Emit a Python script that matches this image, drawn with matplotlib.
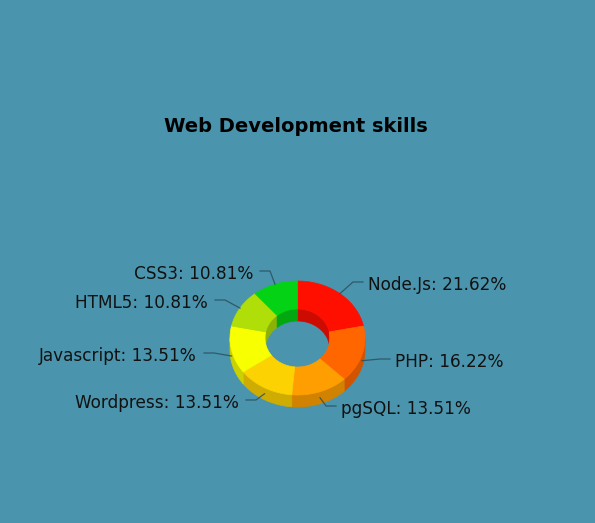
import numpy as np
import matplotlib.pyplot as plt
from matplotlib.patches import Polygon
from matplotlib.colors import to_rgb

# skill shares (counts out of 37 -> the percentages shown on the labels)
skills = ["Node.Js", "PHP", "pgSQL", "Wordpress", "Javascript", "HTML5", "CSS3"]
counts = [8, 6, 5, 5, 5, 4, 4]
colors = ["#FF0F00", "#FF6600", "#FF9E01", "#FCD202", "#F8FF01", "#B0DE09", "#04D215"]

# where each label text sits (x, y, side) - picked to match the original layout
label_pos = [(368, 285, "l"), (395, 362, "l"), (341, 409, "l"),
             (239, 403, "r"), (197, 356, "r"), (208, 303, "r"), (253, 274, "r")]

BG = "#4A95AD"
W, H = 595, 523
CX, CY = 297.5, 338.0          # center of the top face, in pixels
A_OUT, B_OUT = 67.5, 57.0      # outer ellipse radii
A_IN, B_IN = 32.5, 29.0        # inner ellipse radii
DEPTH = 12.0                    # 3d thickness


def darker(c, f=0.82):
    r, g, b = to_rgb(c)
    return (r * f, g * f, b * f)


def ell(a, b, phi, dy=0.0):
    return np.column_stack([CX + a * np.cos(phi), CY - b * np.sin(phi) + dy])


fig = plt.figure(figsize=(W / 100, H / 100), dpi=100)
fig.patch.set_facecolor(BG)
ax = fig.add_axes([0, 0, 1, 1])
ax.set_xlim(0, W)
ax.set_ylim(H, 0)
ax.axis("off")

vals = np.array(counts, dtype=float)
frac = vals / vals.sum()
cum = np.concatenate([[0], np.cumsum(frac)])
# start at 12 o'clock, go clockwise
starts = np.pi / 2 - cum[:-1] * 2 * np.pi
ends = np.pi / 2 - cum[1:] * 2 * np.pi

# inner back wall (seen through the hole) - back half is where sin(phi) > 0
for s, e, c in zip(starts, ends, colors):
    phi = np.linspace(s, e, 100)
    phi = phi[np.sin(phi) > 0]
    if len(phi) < 2:
        continue
    top = ell(A_IN, B_IN, phi)
    bot = ell(A_IN, B_IN, phi[::-1], DEPTH)
    ax.add_patch(Polygon(np.vstack([top, bot]), closed=True, fc=darker(c, 0.8),
                         ec=darker(c, 0.8), lw=0.5, zorder=1))

# outer front wall
for s, e, c in zip(starts, ends, colors):
    phi = np.linspace(s, e, 100)
    phi = phi[np.sin(phi) <= 0]
    if len(phi) < 2:
        continue
    top = ell(A_OUT, B_OUT, phi)
    bot = ell(A_OUT, B_OUT, phi[::-1], DEPTH)
    ax.add_patch(Polygon(np.vstack([top, bot]), closed=True, fc=darker(c),
                         ec=darker(c), lw=0.5, zorder=2))

# top faces
for s, e, c in zip(starts, ends, colors):
    phi = np.linspace(s, e, 100)
    pts = np.vstack([ell(A_OUT, B_OUT, phi), ell(A_IN, B_IN, phi[::-1])])
    ax.add_patch(Polygon(pts, closed=True, fc=c, ec=c, lw=0.5, zorder=3))

# labels with leader lines
mids = (starts + ends) / 2
for name, f, m, (tx, ty, side) in zip(skills, frac, mids, label_pos):
    x0, y0 = CX + A_OUT * np.cos(m), CY - B_OUT * np.sin(m)
    if np.sin(m) < 0:
        y0 += DEPTH * 0.5
    ly = ty - 3
    if side == "l":
        xs = [x0, tx - 15, tx - 5]
        ha = "left"
    else:
        xs = [x0, tx + 17, tx + 7]
        ha = "right"
    ax.plot(xs, [y0, ly, ly], color="#2a4a58", lw=0.9, alpha=0.8, zorder=4)
    ax.text(tx, ty, f"{name}: {f * 100:.2f}%", ha=ha, va="center",
            fontsize=12.2, color="#111111", zorder=5)

ax.text(296, 127, "Web Development skills", ha="center", va="center",
        fontsize=14, fontweight="bold", color="#000000")

plt.savefig("out.png", dpi=100, facecolor=BG)
